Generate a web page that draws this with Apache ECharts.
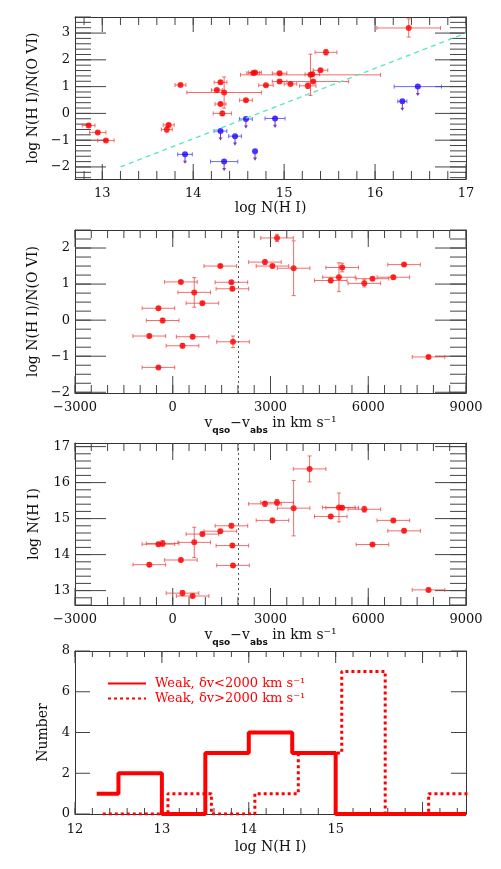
<!DOCTYPE html>
<html>
<head>
<meta charset="utf-8">
<script src="https://cdn.jsdelivr.net/npm/echarts@6/dist/echarts.min.js"></script>
<style>
  html, body { margin: 0; padding: 0; background: #fff; }
  #main { width: 501px; height: 869px; }
</style>
</head>
<body>
<div id="main"></div>
<script>
// panel 1: log N(HI) vs log N(HI)/N(OVI)
const nhiDet = [12.85, 12.95, 13.04, 13.73, 13.71, 13.86, 14.30, 14.26, 14.34, 14.30, 14.32, 14.58, 14.66, 14.68, 14.80, 14.95, 14.95, 15.07, 15.29, 15.31, 15.40, 15.46, 15.32, 15.26, 16.37];
const ratioDet = [-0.45, -0.71, -1.01, -0.43, -0.60, 1.06, 1.16, 0.87, 0.78, 0.35, 0.00, 0.49, 1.51, 1.53, 1.05, 1.50, 1.19, 1.10, 1.44, 1.46, 1.61, 2.28, 1.19, 1.03, 3.19];
const nhiDetErr = [0.07, 0.09, 0.09, 0.06, 0.06, 0.06, 0.07, 0.06, 0.41, 0.06, 0.10, 0.07, 0.07, 0.07, 0.08, 0.08, 0.08, 0.07, 0.77, 0.08, 0.08, 0.12, 0.39, 0.09, 0.35];
const ratioDetErr = [0.05, 0.05, 0.04, 0.05, 0.10, 0.04, 0.06, 0.04, 0.58, 0.06, 0.08, 0.04, 0.04, 0.04, 0.04, 0.04, 0.05, 0.04, 0.77, 0.06, 0.05, 0.10, 0.05, 0.10, 0.34];

// upper limits (blue)
const nhiLim = [13.91, 14.30, 14.34, 14.46, 14.58, 14.68, 14.90, 16.30, 16.47];
const ratioLim = [-1.53, -0.66, -1.80, -0.85, -0.21, -1.41, -0.19, 0.45, 1.00];
const nhiLimErr = [0.08, 0.07, 0.15, 0.07, 0.07, 0, 0.11, 0.05, 0.26];

// dashed reference line
const refLineX = [13.2, 17];
const refLineY = [-2.0, 3.0];

// panel 2: velocity vs ratio
const velRatio = [3200, 2830, 3060, 3710, 1460, 5200, 7100, 250, 1800, 1830, 660, 910, -440, -310, -720, 610, 300, 1850, -440, 7850, 4850, 5100, 5880, 6130, 6770];
const ratioVel = [2.28, 1.61, 1.50, 1.44, 1.50, 1.46, 1.54, 1.06, 1.05, 0.87, 0.77, 0.47, 0.33, -0.01, -0.44, -0.46, -0.71, -0.60, -1.31, -1.02, 1.10, 1.19, 1.02, 1.15, 1.19];
const ratioVelErr = [0.10, 0.06, 0.05, 0.76, 0.04, 0.12, 0.04, 0.04, 0.04, 0.05, 0.41, 0.04, 0.04, 0.06, 0.05, 0.05, 0.06, 0.16, 0.04, 0.04, 0.06, 0.40, 0.10, 0.04, 0.05];

// panel 3: velocity vs log N(HI)
const velNhi = [4200, 2830, 3200, 3710, 3060, 5100, 5200, 4850, 5880, 6770, 7100, 6130, 7850, 1800, 1460, 910, 660, -440, -310, -720, 250, 1830, 1850, 300, 610];
const nhiVel = [16.38, 15.41, 15.45, 15.29, 14.95, 15.31, 15.30, 15.06, 15.26, 14.95, 14.66, 14.28, 13.02, 14.80, 14.65, 14.57, 14.34, 14.29, 14.31, 13.72, 13.85, 14.25, 13.70, 12.93, 12.85];
const nhiVelErr = [0.36, 0.07, 0.08, 0.77, 0.06, 0.40, 0.05, 0.05, 0.08, 0.05, 0.05, 0.04, 0.05, 0.06, 0.05, 0.05, 0.42, 0.05, 0.08, 0.05, 0.05, 0.05, 0.05, 0.07, 0.05];
const velErr = 500;
const splitVelocity = 2000;

// panel 4: histograms
const binsLow = [12.25, 12.5, 13, 13.5, 14, 14.5, 15, 15.5, 16, 16.5];
const countsLow = [1, 2, 0, 3, 4, 3, 0, 0, 0];
const binsHigh = [12.32, 12.57, 13.07, 13.57, 14.07, 14.57, 15.07, 15.57, 16.07, 16.57];
const countsHigh = [0, 0, 1, 0, 1, 3, 7, 0, 1];

const serif = 'DejaVu Serif';
const red = '#ff0000';
const redBar = 'rgba(240,60,60,0.75)';
const blue = '#1a00ff';
const blueBar = 'rgba(70,70,255,0.8)';

const grids = [
  { left: 75, top: 17, width: 391, height: 162 },
  { left: 75, top: 230, width: 391, height: 163 },
  { left: 75, top: 443, width: 391, height: 162 },
  { left: 75, top: 651, width: 391, height: 163 }
];

const velName = '{m|v}{s|qso}{m|\u2212v}{s|abs}{m| in km s\u207b\u00b9}';
const velNameStyle = {
  rich: {
    m: { fontFamily: serif, fontSize: 14, color: '#111', lineHeight: 24, verticalAlign: 'middle' },
    s: { fontFamily: 'DejaVu Sans', fontWeight: 'bold', fontSize: 9, color: '#111', lineHeight: 10, verticalAlign: 'bottom' }
  }
};

// axis settings per panel
const xCfg = [
  { min: 12.7, max: 17, major: 1, minor: 0.2, majorLen: 15, minorLen: 8, labelStep: 1, labelMargin: 8, name: 'log N(H I)', nameGap: 22 },
  { min: -3000, max: 9000, major: 3000, minor: 500, majorLen: 17, minorLen: 8, labelStep: 3000, labelMargin: 8, name: velName, nameGap: 18, nameStyle: velNameStyle },
  { min: -3000, max: 9000, major: 3000, minor: 500, majorLen: 17, minorLen: 8, labelStep: 3000, labelMargin: 8, name: velName, nameGap: 18, nameStyle: velNameStyle },
  { min: 12, max: 16.5, major: 1, minor: 0.2, majorLen: 12, minorLen: 6, labelStep: 1, labelMargin: 9, hideLabels: [16], name: 'log N(H I)', nameGap: 26 }
];
const yCfg = [
  { min: -2.45, max: 3.6, major: 1, minor: 0.2, majorLen: 31, minorLen: 16, labelStep: 1, labelMargin: 5, name: 'log N(H I)/N(O VI)', nameGap: 34 },
  { min: -2.02, max: 2.5, major: 1, minor: 0.25, majorLen: 31, minorLen: 16, labelStep: 1, labelMargin: 5, name: 'log N(H I)/N(O VI)', nameGap: 34 },
  { min: 12.6, max: 17.1, major: 1, minor: 0.2, majorLen: 31, minorLen: 16, labelStep: 1, labelMargin: 5, name: 'log N(H I)', nameGap: 34 },
  { min: 0, max: 8, major: 2, minor: null, majorLen: 15, labelStep: 2, labelMargin: 5, name: 'Number', nameGap: 22 }
];

function isStep(v, step) {
  const k = v / step;
  return Math.abs(k - Math.round(k)) < 1e-6;
}

function numLabel(v) {
  return v < 0 ? '\u2212' + Math.abs(v) : String(v);
}

const xAxes = [];
const yAxes = [];
const ix = [], iy = [];

// main axis (frame + labels) and a bare frame axis on the opposite side
function addAxes(list, dim, gridIndex, o) {
  const isX = dim === 'x';
  const idx = list.length;
  const frame = { show: true, onZero: false, lineStyle: { color: '#333', width: 1 } };
  const base = { type: 'value', gridIndex: gridIndex, min: o.min, max: o.max, splitLine: { show: false }, axisTick: { show: false } };
  list.push(Object.assign({}, base, {
    position: isX ? 'bottom' : 'left',
    minInterval: o.major, maxInterval: o.major,
    splitNumber: Math.max(1, Math.round((o.max - o.min) / o.major)),
    axisLine: frame,
    axisLabel: {
      show: true, margin: o.labelMargin, fontFamily: serif, fontSize: 13, color: '#111',
      formatter: function (v) {
        if (!isStep(v, o.labelStep)) return '';
        if (o.hideLabels && o.hideLabels.indexOf(v) >= 0) return '';
        return numLabel(v);
      }
    },
    name: o.name, nameLocation: 'middle', nameGap: o.nameGap,
    nameTextStyle: Object.assign({ fontFamily: serif, fontSize: 14, color: '#111' }, o.nameStyle || {})
  }));
  list.push(Object.assign({}, base, {
    position: isX ? 'top' : 'right', axisLine: frame, axisLabel: { show: false }
  }));
  return idx;
}

for (let g = 0; g < 4; g++) {
  ix[g] = addAxes(xAxes, 'x', g, xCfg[g]);
  iy[g] = addAxes(yAxes, 'y', g, yCfg[g]);
}

function tickValues(min, max, step) {
  const out = [];
  for (let k = Math.ceil(min / step - 1e-9); k * step <= max + 1e-9; k++) out.push(+(k * step).toFixed(6));
  return out;
}

// inward tick marks on all four sides as one broken polyline per panel
function tickPolyline(g) {
  const xo = xCfg[g], yo = yCfg[g], gr = grids[g];
  const dy = function (px) { return px / gr.height * (yo.max - yo.min); };
  const dx = function (px) { return px / gr.width * (xo.max - xo.min); };
  const gap = ['-', '-'];
  const out = [];
  const addX = function (v, len) {
    out.push([v, yo.min], [v, yo.min + dy(len)], gap);
    out.push([v, yo.max], [v, yo.max - dy(len)], gap);
  };
  const addY = function (v, len) {
    out.push([xo.min, v], [xo.min + dx(len), v], gap);
    out.push([xo.max, v], [xo.max - dx(len), v], gap);
  };
  tickValues(xo.min, xo.max, xo.major).forEach(function (v) { addX(v, xo.majorLen); });
  if (xo.minor) tickValues(xo.min, xo.max, xo.minor).forEach(function (v) { addX(v, xo.minorLen); });
  tickValues(yo.min, yo.max, yo.major).forEach(function (v) { addY(v, yo.majorLen); });
  if (yo.minor) tickValues(yo.min, yo.max, yo.minor).forEach(function (v) { addY(v, yo.minorLen); });
  return out;
}

function errorBars(color) {
  return function (params, api) {
    const x = api.value(0), y = api.value(1), ex = api.value(2), ey = api.value(3);
    const l = api.coord([x - ex, y]), r = api.coord([x + ex, y]);
    const b = api.coord([x, y - ey]), t = api.coord([x, y + ey]);
    const c = 2;
    const seg = function (x1, y1, x2, y2) {
      return { type: 'line', shape: { x1: x1, y1: y1, x2: x2, y2: y2 }, style: { stroke: color, lineWidth: 1 } };
    };
    const kids = [];
    if (ex > 0) {
      kids.push(seg(l[0], l[1], r[0], r[1]), seg(l[0], l[1] - c, l[0], l[1] + c), seg(r[0], r[1] - c, r[0], r[1] + c));
    }
    if (ey > 0) {
      kids.push(seg(b[0], b[1], t[0], t[1]), seg(b[0] - c, b[1], b[0] + c, b[1]), seg(t[0] - c, t[1], t[0] + c, t[1]));
    }
    return { type: 'group', children: kids };
  };
}

function zip(xs, ys, exs, eys) {
  return xs.map(function (x, i) {
    return [x, ys[i], Array.isArray(exs) ? exs[i] : exs, Array.isArray(eys) ? eys[i] : eys];
  });
}

function steps(edges, counts) {
  const pts = [];
  counts.forEach(function (c, i) { pts.push([edges[i], c], [edges[i + 1], c]); });
  return pts;
}

const det1 = zip(nhiDet, ratioDet, nhiDetErr, ratioDetErr);
const lim1 = zip(nhiLim, ratioLim, nhiLimErr, 0);
const det2 = zip(velRatio, ratioVel, velErr, ratioVelErr);
const det3 = zip(velNhi, nhiVel, velErr, nhiVelErr);

const splitMark = {
  silent: true, symbol: 'none', label: { show: false },
  lineStyle: { type: [2, 3], color: '#555', width: 1 },
  data: [{ xAxis: splitVelocity }]
};

const arrowPath = 'path://M1.5,0 L2.5,0 L2.5,5 L4,5 L2,9 L0,5 L1.5,5 Z';
const legendLow = 'Weak, \u03b4v<2000 km s\u207b\u00b9';
const legendHigh = 'Weak, \u03b4v>2000 km s\u207b\u00b9';

const series = [];
for (let g = 0; g < 4; g++) {
  series.push({
    type: 'line', xAxisIndex: ix[g], yAxisIndex: iy[g], symbol: 'none', silent: true,
    connectNulls: false, clip: false, z: 1,
    lineStyle: { color: '#444', width: 1 },
    data: tickPolyline(g)
  });
}

series.push(
  {
    type: 'line', xAxisIndex: ix[0], yAxisIndex: iy[0], symbol: 'none', silent: true,
    data: refLineX.map(function (x, i) { return [x, refLineY[i]]; }),
    lineStyle: { color: '#55e8c4', width: 1.3, type: [5, 4] }
  },
  {
    type: 'custom', xAxisIndex: ix[0], yAxisIndex: iy[0], clip: true,
    renderItem: errorBars(redBar), data: det1
  },
  {
    type: 'custom', xAxisIndex: ix[0], yAxisIndex: iy[0], clip: true,
    renderItem: errorBars(blueBar), data: lim1
  },
  {
    type: 'scatter', xAxisIndex: ix[0], yAxisIndex: iy[0], symbol: arrowPath,
    symbolSize: [4, 7], symbolOffset: [0, 6], itemStyle: { color: '#5a0a9a' },
    data: lim1.map(function (d) { return [d[0], d[1]]; })
  },
  {
    type: 'scatter', xAxisIndex: ix[0], yAxisIndex: iy[0], symbolSize: 6,
    itemStyle: { color: blue }, data: lim1.map(function (d) { return [d[0], d[1]]; })
  },
  {
    type: 'scatter', xAxisIndex: ix[0], yAxisIndex: iy[0], symbolSize: 6,
    itemStyle: { color: red }, data: det1.map(function (d) { return [d[0], d[1]]; })
  },
  {
    type: 'custom', xAxisIndex: ix[1], yAxisIndex: iy[1], clip: true,
    renderItem: errorBars(redBar), data: det2
  },
  {
    type: 'scatter', xAxisIndex: ix[1], yAxisIndex: iy[1], symbolSize: 6,
    itemStyle: { color: red }, data: det2.map(function (d) { return [d[0], d[1]]; }),
    markLine: splitMark
  },
  {
    type: 'custom', xAxisIndex: ix[2], yAxisIndex: iy[2], clip: true,
    renderItem: errorBars(redBar), data: det3
  },
  {
    type: 'scatter', xAxisIndex: ix[2], yAxisIndex: iy[2], symbolSize: 6,
    itemStyle: { color: red }, data: det3.map(function (d) { return [d[0], d[1]]; }),
    markLine: splitMark
  },
  {
    name: legendHigh,
    type: 'line', xAxisIndex: ix[3], yAxisIndex: iy[3], symbol: 'none', clip: true,
    data: steps(binsHigh, countsHigh),
    lineStyle: { color: red, width: 3, type: [3, 3] }, itemStyle: { color: red }
  },
  {
    name: legendLow,
    type: 'line', xAxisIndex: ix[3], yAxisIndex: iy[3], symbol: 'none', clip: true,
    data: steps(binsLow, countsLow),
    lineStyle: { color: red, width: 4 }, itemStyle: { color: red }
  }
);

const option = {
  animation: false,
  backgroundColor: '#fff',
  grid: grids,
  xAxis: xAxes,
  yAxis: yAxes,
  legend: {
    orient: 'vertical', left: 107, top: 677, padding: 0, itemWidth: 38, itemHeight: 14, itemGap: 2,
    data: [legendLow, legendHigh],
    itemStyle: { opacity: 0 },
    textStyle: { fontFamily: serif, fontSize: 13, color: red, padding: [0, 0, 0, 4] }
  },
  series: series
};

const chart = echarts.init(document.getElementById('main'), null, { renderer: 'canvas' });
chart.setOption(option);
</script>
</body>
</html>
